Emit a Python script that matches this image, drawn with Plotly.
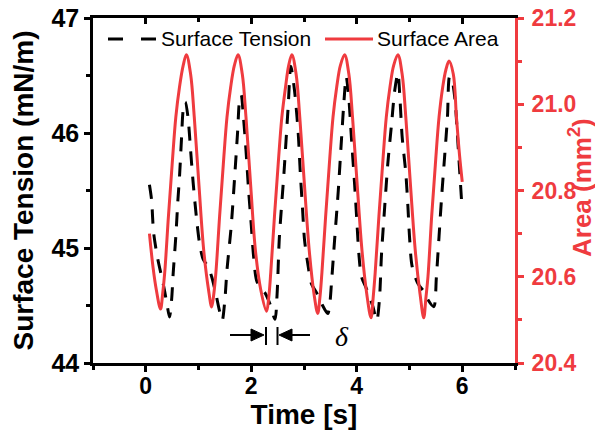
import plotly.graph_objects as go

# ---------------- data ----------------
time_area = [0.07, 0.14, 0.20, 0.28,
             0.32, 0.36, 0.43, 0.50, 0.57, 0.64, 0.71, 0.77,
             0.85, 0.92, 1.01, 1.10, 1.19, 1.25,
             1.29, 1.33, 1.40, 1.47, 1.54, 1.61, 1.68, 1.75,
             1.83, 1.90, 1.99, 2.08, 2.18, 2.29,
             2.33, 2.37, 2.44, 2.51, 2.58, 2.65, 2.71, 2.77,
             2.85, 2.92, 3.01, 3.10, 3.19, 3.26,
             3.30, 3.34, 3.41, 3.48, 3.55, 3.62, 3.69, 3.77,
             3.85, 3.92, 4.01, 4.10, 4.19, 4.27,
             4.31, 4.35, 4.42, 4.49, 4.56, 4.63, 4.70, 4.78,
             4.86, 4.93, 5.02, 5.11, 5.20, 5.27,
             5.31, 5.35, 5.42, 5.49, 5.56, 5.63, 5.69, 5.75,
             5.83, 5.89, 5.95, 6.00]
area = [20.70, 20.62, 20.57, 20.525,
        20.56, 20.61, 20.74, 20.86, 20.97, 21.04, 21.09, 21.115,
        21.07, 20.97, 20.81, 20.66, 20.57, 20.53,
        20.56, 20.61, 20.74, 20.86, 20.97, 21.04, 21.09, 21.115,
        21.07, 20.97, 20.81, 20.66, 20.57, 20.52,
        20.55, 20.61, 20.74, 20.86, 20.97, 21.04, 21.09, 21.115,
        21.07, 20.97, 20.81, 20.66, 20.56, 20.515,
        20.55, 20.61, 20.74, 20.86, 20.97, 21.04, 21.09, 21.115,
        21.07, 20.97, 20.81, 20.66, 20.56, 20.505,
        20.55, 20.61, 20.74, 20.86, 20.97, 21.04, 21.09, 21.115,
        21.07, 20.97, 20.81, 20.66, 20.56, 20.505,
        20.55, 20.60, 20.74, 20.86, 20.97, 21.04, 21.08, 21.10,
        21.07, 20.97, 20.88, 20.82]

time_st = [0.07, 0.11, 0.15, 0.23, 0.33, 0.40, 0.45, 0.49, 0.52, 0.57, 0.61,
           0.64, 0.68, 0.71, 0.75, 0.80, 0.85, 0.90, 0.96, 1.02, 1.09, 1.18,
           1.25, 1.33, 1.40, 1.45, 1.50, 1.54, 1.62, 1.69, 1.74, 1.78, 1.81,
           1.85, 1.90, 1.95, 2.00, 2.04, 2.10, 2.18, 2.26, 2.35, 2.45, 2.49,
           2.53, 2.58, 2.62, 2.70, 2.75, 2.82, 2.89, 2.93, 2.97, 3.01, 3.08,
           3.14, 3.24, 3.33, 3.45, 3.49, 3.52, 3.58, 3.65, 3.71, 3.76, 3.80,
           3.85, 3.90, 3.96, 4.00, 4.04, 4.09, 4.18, 4.30, 4.38, 4.43, 4.47,
           4.53, 4.59, 4.66, 4.72, 4.78, 4.82, 4.86, 4.93, 4.97, 5.00, 5.05,
           5.16, 5.29, 5.35, 5.46, 5.51, 5.56, 5.61, 5.67, 5.72, 5.76, 5.81,
           5.86, 5.91, 5.95, 5.99]
tension = [45.55, 45.42, 45.13, 44.90, 44.69, 44.52, 44.40, 44.55, 44.78, 45.10, 45.42,
           45.62, 45.97, 46.20, 46.27, 46.14, 45.85, 45.56, 45.27, 45.04, 44.90, 44.84,
           44.75, 44.60, 44.45, 44.37, 44.55, 44.81, 45.19, 45.65, 46.00, 46.29, 46.33,
           46.15, 45.85, 45.50, 45.20, 44.95, 44.72, 44.65, 44.61, 44.52, 44.38, 44.60,
           45.07, 45.40, 45.65, 46.23, 46.58, 46.37, 46.00, 45.65, 45.36, 45.07, 44.84,
           44.69, 44.61, 44.52, 44.43, 44.52, 44.69, 45.07, 45.50, 45.94, 46.29, 46.49,
           46.30, 45.95, 45.55, 45.25, 44.95, 44.75, 44.65, 44.50, 44.37, 44.55, 44.95,
           45.36, 45.74, 46.08, 46.37, 46.52, 46.29, 45.97, 45.65, 45.36, 45.10, 44.84,
           44.69, 44.61, 44.55, 44.49, 44.75, 45.10, 45.45, 45.82, 46.14, 46.49, 46.45,
           46.30, 45.97, 45.68, 45.39]

x_ticks = [0, 2, 4, 6]
x_minor = [-1, 1, 3, 5, 7]
y_left_ticks = [44, 45, 46, 47]
y_left_minor = [44.5, 45.5, 46.5]
y_right_ticks = [20.4, 20.6, 20.8, 21.0, 21.2]
y_right_minor = [20.5, 20.7, 20.9, 21.1]

# ---------------- style ----------------
RED = "#EF3B3F"
FONT = "Liberation Sans"
W, H = 595, 434
L, R, T, B = 93, 515, 18, 363   # plot area in pixels


def px(xp):
    return (xp - L) / (R - L)


def py(yp):
    return (B - yp) / (B - T)


fig = go.Figure()
fig.add_trace(go.Scatter(x=time_st, y=tension, mode="lines", name="Surface Tension",
                         line=dict(color="black", width=3, dash="14px,11px",
                                   shape="spline", smoothing=0.8),
                         showlegend=False, yaxis="y"))
fig.add_trace(go.Scatter(x=time_area, y=area, mode="lines", name="Surface Area",
                         line=dict(color=RED, width=3, shape="spline", smoothing=1.0),
                         showlegend=False, yaxis="y2"))
fig.add_trace(go.Scatter(x=[None], y=[None], xaxis="x2", yaxis="y",
                         showlegend=False, hoverinfo="skip"))

titlefont = dict(family=FONT, size=28, color="black", weight="bold")

fig.update_layout(
    width=W, height=H,
    margin=dict(l=L, r=W - R, t=T, b=H - B, pad=0),
    paper_bgcolor="white", plot_bgcolor="white",
    xaxis=dict(range=[-1, 7], tickvals=x_ticks, ticks="outside", ticklen=6, tickwidth=2.5,
               tickcolor="black", showline=True, linewidth=2.5, linecolor="black",
               showgrid=False, zeroline=False, automargin=False,
               tickfont=dict(family=FONT, size=23, color="black", weight="bold"),
               ticklabelstandoff=-5,
               minor=dict(tickvals=x_minor, ticks="outside", ticklen=4,
                          tickwidth=2.5, tickcolor="black"),
               title=dict(text="Time [s]", font=titlefont, standoff=4), anchor="y"),
    xaxis2=dict(range=[-1, 7], overlaying="x", side="top", anchor="y", tickvals=x_ticks,
                ticks="inside", ticklen=6, tickwidth=2.5, tickcolor="black",
                showticklabels=False, showline=True, linewidth=2.5, linecolor="black",
                showgrid=False, zeroline=False, automargin=False,
                minor=dict(tickvals=x_minor, ticks="inside", ticklen=4,
                           tickwidth=2.5, tickcolor="black")),
    yaxis=dict(range=[44, 47], tickvals=y_left_ticks, ticks="outside", ticklen=6,
               tickwidth=2.5, tickcolor="black", showline=True, linewidth=2.5,
               linecolor="black", showgrid=False, zeroline=False, automargin=False,
               tickfont=dict(family=FONT, size=25, color="black", weight="bold"),
               minor=dict(tickvals=y_left_minor, ticks="outside", ticklen=4,
                          tickwidth=2.5, tickcolor="black"),
               title=dict(text="Surface Tension (mN/m)", font=titlefont, standoff=10),
               anchor="x"),
    yaxis2=dict(range=[20.4, 21.2], overlaying="y", side="right", anchor="x",
                tickvals=y_right_ticks, tickformat=".1f", ticks="outside", ticklen=6,
                tickwidth=2.5, tickcolor=RED, showline=True, linewidth=3, linecolor=RED,
                showgrid=False, zeroline=False, automargin=False,
                tickfont=dict(family=FONT, size=23, color=RED, weight="bold"),
                ticklabelstandoff=3,
                minor=dict(tickvals=y_right_minor, ticks="outside", ticklen=4,
                           tickwidth=2.5, tickcolor=RED)),
)

shapes = []
# manual legend
shapes.append(dict(type="line", xref="paper", yref="paper", x0=px(108), x1=px(157),
                   y0=py(39), y1=py(39), line=dict(color="black", width=3, dash="15px,18px")))
shapes.append(dict(type="line", xref="paper", yref="paper", x0=px(325), x1=px(373),
                   y0=py(39), y1=py(39), line=dict(color=RED, width=3)))

# delta marker
ya = 335
shapes.append(dict(type="line", xref="paper", yref="paper", x0=px(230), x1=px(253),
                   y0=py(ya), y1=py(ya), line=dict(color="black", width=2)))
shapes.append(dict(type="path", xref="paper", yref="paper",
                   path=f"M{px(251)},{py(ya - 6)} L{px(264)},{py(ya)} L{px(251)},{py(ya + 6)} Z",
                   fillcolor="black", line=dict(color="black", width=1)))
shapes.append(dict(type="line", xref="paper", yref="paper", x0=px(266), x1=px(266),
                   y0=py(345), y1=py(327), line=dict(color="black", width=2)))
shapes.append(dict(type="line", xref="paper", yref="paper", x0=px(277.5), x1=px(277.5),
                   y0=py(345), y1=py(327), line=dict(color="black", width=2)))
shapes.append(dict(type="path", xref="paper", yref="paper",
                   path=f"M{px(292)},{py(ya - 6)} L{px(279)},{py(ya)} L{px(292)},{py(ya + 6)} Z",
                   fillcolor="black", line=dict(color="black", width=1)))
shapes.append(dict(type="line", xref="paper", yref="paper", x0=px(290), x1=px(310),
                   y0=py(ya), y1=py(ya), line=dict(color="black", width=2)))

fig.update_layout(shapes=shapes)

annotations = [
    dict(text="Surface Tension", xref="paper", yref="paper", x=px(159), y=py(39),
         xanchor="left", yanchor="middle", showarrow=False,
         font=dict(family=FONT, size=21, color="black")),
    dict(text="Surface Area", xref="paper", yref="paper", x=px(375), y=py(39),
         xanchor="left", yanchor="middle", showarrow=False,
         font=dict(family=FONT, size=21, color="black")),
    dict(text="<i>δ</i>", xref="paper", yref="paper", x=px(342), y=py(336),
         xanchor="center", yanchor="middle", showarrow=False,
         font=dict(family="Liberation Serif", size=28, color="black")),
    # right axis title
    dict(text="Area (mm<sup>2</sup>)", xref="paper", yref="paper", x=px(580), y=py(188),
         xanchor="center", yanchor="middle", showarrow=False, textangle=-90,
         font=dict(family=FONT, size=26, color=RED, weight="bold")),
]
fig.update_layout(annotations=annotations)

fig.write_html("out.html")
